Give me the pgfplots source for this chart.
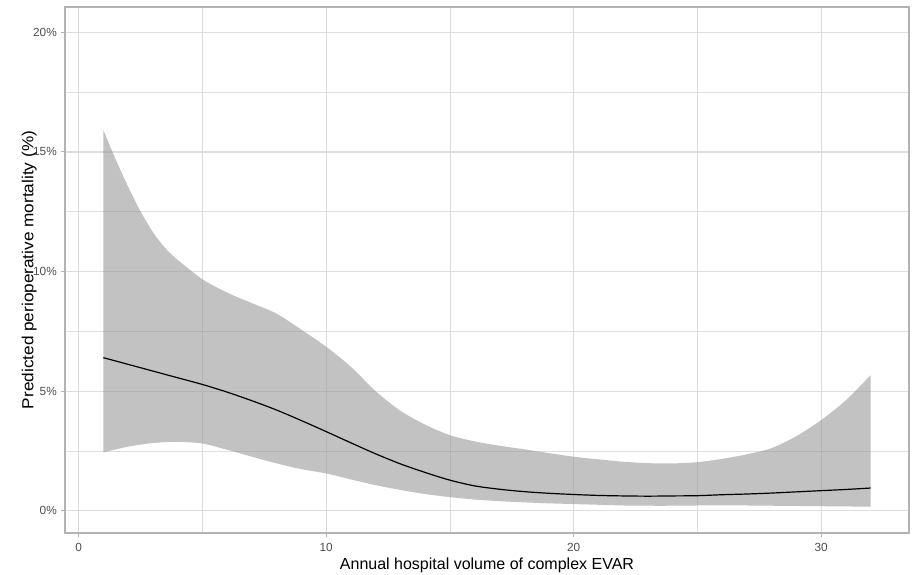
\documentclass[border=0pt]{standalone}
\usepackage{fontspec}
\setmainfont{Liberation Sans}
\usepackage{pgfplots}
\usepackage{pgfplotstable}
\pgfplotsset{compat=1.18}
\usepgfplotslibrary{fillbetween}
\definecolor{tickgray}{HTML}{4D4D4D}
\definecolor{gridgray}{HTML}{DEDEDE}
\definecolor{bordergray}{HTML}{B3B3B3}
\definecolor{ribbon}{HTML}{999999}

% upper confidence limit
\pgfplotstableread{
x    hi
1    15.92
1.5  14.68
2    13.55
2.5  12.52
3    11.65
3.5  10.98
4    10.49
5    9.68
6    9.12
7    8.68
8    8.24
9    7.57
10   6.86
11   6.02
12   5.00
13   4.18
14   3.60
15   3.16
16   2.90
17   2.72
18   2.57
19   2.41
20   2.26
21   2.15
22   2.05
23   1.99
24   1.98
25   2.03
26   2.17
27   2.36
28   2.62
29   3.12
30   3.79
31   4.62
32   5.67
}\upperdata

% lower confidence limit
\pgfplotstableread{
x    lo
1    2.44
2    2.68
3    2.83
4    2.88
5    2.81
6    2.55
7    2.26
8    1.98
9    1.74
10   1.56
11   1.31
12   1.07
13   0.87
14   0.70
15   0.57
16   0.47
17   0.40
18   0.35
19   0.31
20   0.28
21   0.25
22   0.22
23   0.21
24   0.21
25   0.22
26   0.22
27   0.22
28   0.21
29   0.20
30   0.19
31   0.18
32   0.17
}\lowerdata

% predicted mortality
\pgfplotstableread{
x    fit
1    6.40
2    6.12
3    5.84
4    5.56
5    5.28
6    4.96
7    4.60
8    4.21
9    3.77
10   3.31
11   2.84
12   2.38
13   1.96
14   1.60
15   1.28
16   1.04
17   0.90
18   0.80
19   0.73
20   0.68
21   0.64
22   0.62
23   0.61
24   0.62
25   0.63
26   0.67
27   0.70
28   0.74
29   0.79
30   0.84
31   0.89
32   0.95
}\fitdata

\begin{document}
\begin{tikzpicture}
\begin{axis}[
  at={(65bp,42bp)}, anchor=south west,
  scale only axis, width=844bp, height=526bp,
  xmin=-0.55, xmax=33.55, ymin=-0.93, ymax=21.06,
  xtick={0,10,20,30}, xticklabels={0,10,20,30},
  minor xtick={5,15,25},
  ytick={0,5,10,15,20}, yticklabels={0\%,5\%,10\%,15\%,20\%},
  minor ytick={2.5,7.5,12.5,17.5},
  grid=both,
  major grid style={draw=gridgray, line width=1.1bp},
  minor grid style={draw=gridgray, line width=0.55bp},
  tick pos=left, tick align=outside,
  major tick length=4bp, minor tick length=0pt,
  tick style={draw=bordergray, line width=1bp},
  axis line style={draw=bordergray, line width=1.1bp},
  /pgf/number format/assume math mode=true,
  ticklabel style={font=\fontsize{11.8bp}{14bp}\selectfont, text=tickgray},
  yticklabel style={anchor=east, inner sep=0pt, xshift=-4bp},
  xticklabel style={anchor=north, inner sep=0pt, yshift=-6bp},
  label style={font=\fontsize{16bp}{19bp}\selectfont, text=black},
  xlabel={Annual hospital volume of complex EVAR},
  xlabel style={at={(axis description cs:0.5,-0.0703)}, anchor=base},
  ylabel={Predicted perioperative mortality (\%)},
  ylabel style={at={(axis description cs:-0.0376,0.5)}, anchor=base, xscale=1.075},
]
\addplot[name path=U, draw=none, smooth, tension=0.5, forget plot] table[x=x, y=hi] {\upperdata};
\addplot[name path=L, draw=none, smooth, tension=0.5, forget plot] table[x=x, y=lo] {\lowerdata};
\addplot[fill=ribbon, fill opacity=0.6, draw=none] fill between[of=U and L];
\addplot[black, line width=1.2bp, smooth, tension=0.5] table[x=x, y=fit] {\fitdata};
\end{axis}
\pgfresetboundingbox
\path[use as bounding box] (0,0) rectangle (915bp,575bp);
\end{tikzpicture}
\end{document}
